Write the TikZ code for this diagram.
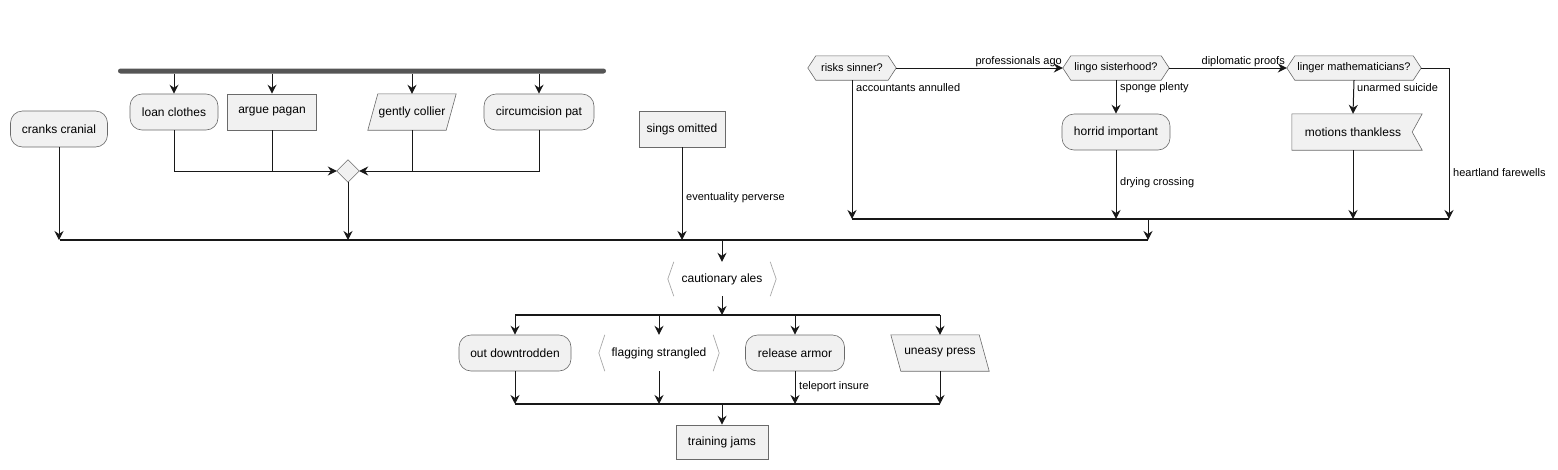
\documentclass[tikz,border=0pt]{standalone}
\usepackage{fontspec}
\setmainfont{Liberation Sans}
\usetikzlibrary{arrows.meta}
\pgfdeclarelayer{bg}
\pgfsetlayers{bg,main}
\definecolor{nfill}{HTML}{F1F1F1}
\definecolor{nline}{HTML}{181818}
\definecolor{bord}{HTML}{6A6A6A}
\definecolor{brk}{HTML}{A8A8A8}
\definecolor{forkc}{HTML}{555555}
\tikzset{
  every node/.style={font=\fontsize{12}{14}\selectfont},
  box/.style={draw=bord, fill=nfill, line width=0.6pt, minimum height=36pt, inner sep=0pt},
  rbox/.style={box, rounded corners=12pt},
  txt/.style={inner sep=0pt, minimum height=36pt},
  htxt/.style={inner sep=0pt, minimum height=24pt, font=\fontsize{11}{13}\selectfont},
  shp/.style={draw=bord, fill=nfill, line width=0.6pt},
  brkline/.style={draw=brk, line width=0.7pt},
  conn/.style={draw=nline, line width=1pt, -{Stealth[length=9pt,width=9pt,inset=3pt]}},
  plain/.style={draw=nline, line width=1pt},
  barline/.style={draw=nline, line width=1.4pt},
  lbl/.style={font=\fontsize{11}{13}\selectfont, inner sep=0pt, anchor=west},
}
\begin{document}
\begin{tikzpicture}[x=1pt,y=-1pt]
\useasboundingbox (0,0) rectangle (1558,469);

% ---------- left part ----------
\node[fill=forkc, minimum width=488pt, minimum height=5pt, rounded corners=2.5pt, inner sep=0pt] (fork) at (362,71) {};
\node[rbox, minimum width=97pt] (cranks) at (59,129) {cranks cranial};
\node[rbox, minimum width=88pt] (loan) at (174,112) {loan clothes};
\node[box, minimum width=89pt] (argue) at (272,112) {argue pagan};
\node[txt, minimum width=78pt] (gently) at (412,112) {gently collier};
\node[rbox, minimum width=110pt] (circ) at (539,112) {circumcision pat};
\node[inner sep=0pt, minimum width=22pt, minimum height=22pt] (dia) at (348,171) {};
\node[box, minimum width=86pt] (sings) at (682,129) {sings omitted};

\begin{pgfonlayer}{bg}
\filldraw[shp] ([xshift=-5pt]gently.south west) -- ([xshift=5pt]gently.north west) -- ([xshift=5pt]gently.north east) -- ([xshift=-5pt]gently.south east) -- cycle;
\filldraw[shp] (dia.north) -- (dia.east) -- (dia.south) -- (dia.west) -- cycle;
\end{pgfonlayer}

\draw[conn] (fork.south -| loan.north) -- (loan.north);
\draw[conn] (fork.south -| argue.north) -- (argue.north);
\draw[conn] (fork.south -| gently.north) -- (gently.north);
\draw[conn] (fork.south -| circ.north) -- (circ.north);

\draw[conn] (loan.south) |- (dia.west);
\draw[plain] (argue.south) -- (argue.south |- dia.west);
\draw[conn] (circ.south) |- (dia.east);
\draw[plain] (gently.south) -- (gently.south |- dia.east);

% main join bar
\coordinate (bm1) at (60,240);
\coordinate (bm2) at (1148,240);
\coordinate (bm3) at (722,240);
\draw[barline] (bm1) -- (bm2);
\draw[conn] (cranks.south) -- (cranks.south |- bm1);
\draw[conn] (dia.south) -- (dia.south |- bm1);
\draw[conn] (sings.south) -- (sings.south |- bm1);
\node[lbl] (lev) at (686,198) {eventuality perverse};

% ---------- right part ----------
\node[htxt, minimum width=72pt] (risks) at (852,68) {risks sinner?};
\node[htxt, minimum width=90pt] (lingo) at (1116,68) {lingo sisterhood?};
\node[htxt, minimum width=118pt] (linger) at (1354,68) {linger mathematicians?};
\node[rbox, minimum width=108pt] (horrid) at (1116,132) {horrid important};
\node[txt, minimum width=122pt] (motions) at (1353,132) {motions thankless};

\begin{pgfonlayer}{bg}
\foreach \n in {risks,lingo,linger}{
  \filldraw[shp] ([xshift=-8pt]\n.west) -- (\n.north west) -- (\n.north east) -- ([xshift=8pt]\n.east) -- (\n.south east) -- (\n.south west) -- cycle;
}
\filldraw[shp] (motions.south west) -- (motions.north west) -- ([xshift=8pt]motions.north east) -- ([xshift=-2pt]motions.east) -- ([xshift=8pt]motions.south east) -- cycle;
\end{pgfonlayer}

\coordinate (bt1) at (852,219);
\coordinate (bt2) at (1449,219);
\coordinate (bt3) at (1148,219);
\draw[barline] (bt1) -- (bt2);

\draw[conn] ([xshift=8pt]risks.east) -- ([xshift=-8pt]lingo.west);
\node[lbl, anchor=east] (lpa) at (1062,62) {professionals ago};
\draw[conn] ([xshift=8pt]lingo.east) -- ([xshift=-8pt]linger.west);
\node[lbl, anchor=east] (ldp) at (1285,62) {diplomatic proofs};
\draw[conn] ([xshift=8pt]linger.east) -| (bt2);
\node[lbl] (lhf) at (1453,173) {heartland farewells};

\draw[conn] (risks.south) -- (risks.south |- bt1);
\node[lbl] (laa) at (856,88) {accountants annulled};
\draw[conn] (lingo.south) -- (horrid.north);
\node[lbl] (lsp) at (1120,88) {sponge plenty};
\draw[conn] (horrid.south) -- (horrid.south |- bt1);
\node[lbl] (ldc) at (1120,183) {drying crossing};
\draw[conn] (linger.south) -- (motions.north);
\node[lbl] (lus) at (1357,88) {unarmed suicide};
\draw[conn] (motions.south) -- (motions.south |- bt1);

\draw[conn] (bt3) -- (bm2);

% ---------- lower part ----------
\node[txt, minimum width=92pt, minimum height=34pt] (caut) at (722,279) {cautionary ales};
\draw[brkline] ([xshift=-2pt]caut.north west) -- ([xshift=-8pt]caut.west) -- ([xshift=-2pt]caut.south west);
\draw[brkline] ([xshift=2pt]caut.north east) -- ([xshift=8pt]caut.east) -- ([xshift=2pt]caut.south east);
\draw[conn] (bm3) -- (caut.north);

\coordinate (bf1) at (515,315);
\coordinate (bf2) at (940,315);
\coordinate (bf3) at (722,315);
\draw[barline] (bf1) -- (bf2);
\draw[conn] (caut.south) -- (bf3);

\node[rbox, minimum width=112pt] (out) at (515,353) {out downtrodden};
\node[txt, minimum width=104pt] (flag) at (659,353) {flagging strangled};
\node[rbox, minimum width=99pt] (rel) at (795,353) {release armor};
\node[txt, minimum width=88pt] (uneasy) at (940,353) {uneasy press};

\draw[brkline] ([xshift=-2pt]flag.north west) -- ([xshift=-8pt]flag.west) -- ([xshift=-2pt]flag.south west);
\draw[brkline] ([xshift=2pt]flag.north east) -- ([xshift=8pt]flag.east) -- ([xshift=2pt]flag.south east);
\begin{pgfonlayer}{bg}
\filldraw[shp] ([xshift=-5pt]uneasy.north west) -- ([xshift=-5pt]uneasy.north east) -- ([xshift=5pt]uneasy.south east) -- ([xshift=5pt]uneasy.south west) -- cycle;
\end{pgfonlayer}

\draw[conn] (bf1) -- (out.north);
\draw[conn] (flag.north |- bf1) -- (flag.north);
\draw[conn] (rel.north |- bf1) -- (rel.north);
\draw[conn] (bf2) -- (uneasy.north);

\coordinate (bj1) at (515,404);
\coordinate (bj2) at (940,404);
\coordinate (bj3) at (722,404);
\draw[barline] (bj1) -- (bj2);
\draw[conn] (out.south) -- (bj1);
\draw[conn] (flag.south) -- (flag.south |- bj1);
\draw[conn] (rel.south) -- (rel.south |- bj1);
\node[lbl] (lti) at (799,387) {teleport insure};
\draw[conn] (uneasy.south) -- (bj2);

\node[box, minimum width=92pt, minimum height=34pt] (train) at (722,442) {training jams};
\draw[conn] (bj3) -- (train.north);
\end{tikzpicture}
\end{document}
